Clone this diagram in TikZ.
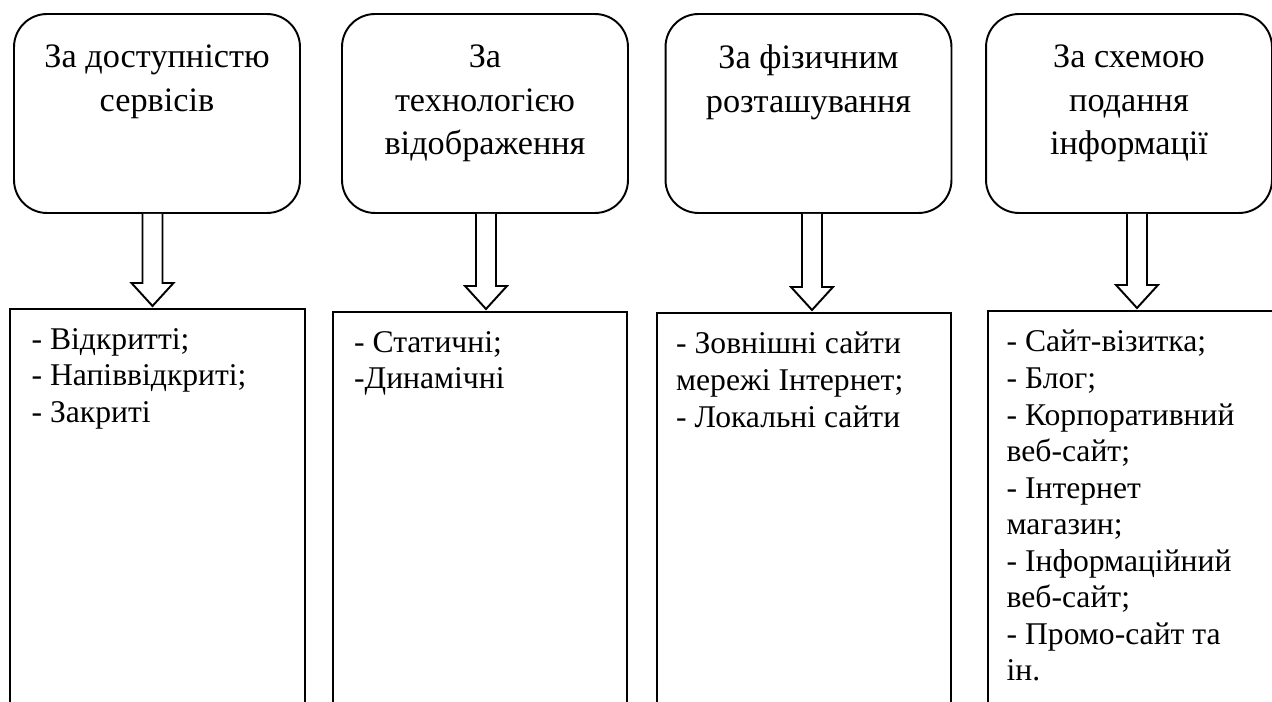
\documentclass[tikz,border=0pt]{standalone}
\usepackage{fontspec}
\setmainfont{Liberation Serif}
\usetikzlibrary{calc}

\tikzset{
  critbox/.style={draw, line width=1.1pt, rounded corners=0.66cm, minimum width=5.72cm, minimum height=3.98cm, inner sep=0pt},
  listbox/.style={draw, line width=1.1pt, anchor=north, minimum width=5.89cm, minimum height=9cm, inner sep=0pt},
  crittext/.style={anchor=north, align=center, inner sep=0pt, font=\fontsize{19.5}{25}\selectfont},
  listtext/.style={anchor=north west, align=left, inner sep=0pt, font=\fontsize{18}{20.8}\selectfont},
  blockarrow/.style={draw, line width=1.1pt, fill=white, line join=miter}
}

% hollow arrow from a criterion box down to its list
\newcommand{\blockdown}[3][0]{%
  \draw[blockarrow] ($(#2.south)+(#1-10,0)$) -- ($(#2.south |- #3.north)+(#1-10,-25)$)
    -- ++(-11,0) -- ($(#2.south |- #3.north)+(#1,-2)$) -- ++(21,-23) -- ++(-11,0)
    -- ($(#2.south)+(#1+10,0)$);}

\begin{document}
\begin{tikzpicture}[x=0.02cm,y=-0.02cm]
  \fill[white] (0,0) rectangle (1272,702);
  \useasboundingbox (0,0) rectangle (1272,702);
  \clip (0,0) rectangle (1272,702);

  % criteria
  \node[critbox] (crit1) at (157,113.5) {};
  \node[critbox] (crit2) at (485,113.5) {};
  \node[critbox] (crit3) at (808.5,113.5) {};
  \node[critbox] (crit4) at (1129,113.5) {};

  \node[crittext] (crit1txt) at ([yshift=-0.62cm]crit1.north) {За доступністю\\сервісів};
  \node[crittext] (crit2txt) at ([yshift=-0.62cm]crit2.north) {За\\технологією\\відображення};
  \node[crittext] (crit3txt) at ([yshift=-0.62cm]crit3.north) {За фізичним\\розташування};
  \node[crittext] (crit4txt) at ([yshift=-0.62cm]crit4.north) {За схемою\\подання\\інформації};

  % lists
  \node[listbox] (list1) at (157.5,308) {};
  \node[listbox] (list2) at (480,311) {};
  \node[listbox] (list3) at (804,312) {};
  \node[listbox] (list4) at (1135.5,310) {};

  \node[listtext] (list1txt) at ([xshift=0.44cm,yshift=-0.4cm]list1.north west)
    {- Відкритті;\\- Напіввідкриті;\\- Закриті};
  \node[listtext] (list2txt) at ([xshift=0.44cm,yshift=-0.4cm]list2.north west)
    {- Статичні;\\-Динамічні};
  \node[listtext] (list3txt) at ([xshift=0.4cm,yshift=-0.4cm]list3.north west)
    {- Зовнішні сайти\\мережі Інтернет;\\- Локальні сайти};
  \node[listtext] (list4txt) at ([xshift=0.38cm,yshift=-0.4cm]list4.north west)
    {- Сайт-візитка;\\- Блог;\\- Корпоративний\\веб-сайт;\\- Інтернет\\магазин;\\- Інформаційний\\веб-сайт;\\- Промо-сайт та\\ін.};

  \blockdown[-4.5]{crit1}{list1}
  \blockdown[1]{crit2}{list2}
  \blockdown[3.5]{crit3}{list3}
  \blockdown[8]{crit4}{list4}
\end{tikzpicture}
\end{document}
